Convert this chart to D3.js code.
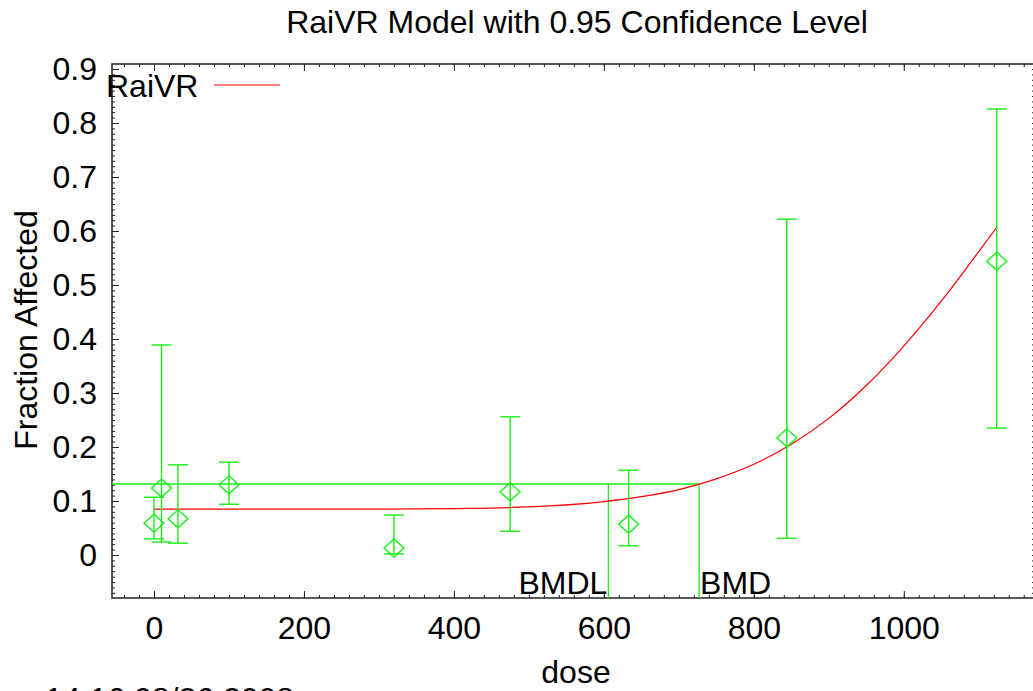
<!DOCTYPE html>
<html>
<head>
<meta charset="utf-8">
<script src="https://cdn.jsdelivr.net/npm/d3@7"></script>
<style>
  body { margin: 0; background: #fff; }
  svg { display: block; font-family: "Liberation Sans", Arial, sans-serif; }
</style>
</head>
<body>
<svg id="chart" width="1033" height="691"></svg>
<script>
// observed data: dose, fraction affected, 95% lower / upper bound
const doses = [0, 10, 32, 100, 320, 475, 633, 844, 1124];
const fractions = [0.059, 0.124, 0.067, 0.130, 0.013, 0.117, 0.057, 0.217, 0.544];
const lowerBounds = [0.030, 0.024, 0.022, 0.094, 0.002, 0.044, 0.017, 0.031, 0.235];
const upperBounds = [0.107, 0.389, 0.167, 0.172, 0.074, 0.256, 0.157, 0.622, 0.826];

// fitted RaiVR curve
const curveDoses = [0, 100, 200, 300, 400, 500, 600, 650, 700, 750, 800, 850, 900, 950, 1000, 1050, 1100, 1124];
const curveValues = [0.085, 0.085, 0.085, 0.085, 0.086, 0.089, 0.099, 0.108, 0.121, 0.141, 0.168, 0.205, 0.253, 0.314, 0.387, 0.470, 0.562, 0.607];

// benchmark dose lines
const bmdl = 606;
const bmd = 727;
const bmr = 0.1315;

const xTicks = [0, 200, 400, 600, 800, 1000];
const yTicks = [0, 0.1, 0.2, 0.3, 0.4, 0.5, 0.6, 0.7, 0.8, 0.9];

const svg = d3.select('#chart');
const plotLeft = 112, plotRight = 1035, plotTop = 64, plotBottom = 598;

const x = d3.scaleLinear().domain([-56, 1175]).range([plotLeft, plotRight]);
const y = d3.scaleLinear().domain([-0.0796, 0.9093]).range([plotBottom, plotTop]);

const green = '#19ee19';

// title
svg.append('text')
  .attr('x', 577).attr('y', 33)
  .attr('text-anchor', 'middle')
  .attr('font-size', 32)
  .text('RaiVR Model with 0.95 Confidence Level');

// frame
svg.append('rect')
  .attr('x', plotLeft).attr('y', plotTop)
  .attr('width', plotRight - plotLeft).attr('height', plotBottom - plotTop)
  .attr('fill', 'none').attr('stroke', '#222').attr('stroke-width', 1.5);

const minorX = d3.range(-40, 1175, 20);
const minorY = d3.range(-7, 91).map(d => d / 100);

function styleAxis(g) {
  g.select('.domain').remove();
  g.selectAll('line').attr('stroke', '#222');
  g.selectAll('text').attr('font-size', 32).attr('fill', '#000')
    .attr('font-family', '"Liberation Sans", Arial, sans-serif');
}

// bottom / top
svg.append('g').attr('transform', `translate(0,${plotBottom})`)
  .call(d3.axisBottom(x).tickValues(minorX).tickSize(-3).tickFormat(''))
  .call(styleAxis);
svg.append('g').attr('transform', `translate(0,${plotBottom})`)
  .call(d3.axisBottom(x).tickValues(xTicks).tickSize(-7).tickPadding(18).tickFormat(d3.format('d')))
  .call(styleAxis);
svg.append('g').attr('transform', `translate(0,${plotTop})`)
  .call(d3.axisTop(x).tickValues(minorX).tickSize(-3).tickFormat(''))
  .call(styleAxis);
svg.append('g').attr('transform', `translate(0,${plotTop})`)
  .call(d3.axisTop(x).tickValues(xTicks).tickSize(-7).tickFormat(''))
  .call(styleAxis);

// left / right
svg.append('g').attr('transform', `translate(${plotLeft},0)`)
  .call(d3.axisLeft(y).tickValues(minorY).tickSize(-3).tickFormat(''))
  .call(styleAxis);
svg.append('g').attr('transform', `translate(${plotLeft},0)`)
  .call(d3.axisLeft(y).tickValues(yTicks).tickSize(-7).tickPadding(15).tickFormat(d => d === 0 ? '0' : d3.format('.1f')(d)))
  .call(styleAxis);
svg.append('g').attr('transform', `translate(${plotRight},0)`)
  .call(d3.axisRight(y).tickValues(minorY).tickSize(-3).tickFormat(''))
  .call(styleAxis);

// axis titles
svg.append('text')
  .attr('x', 576).attr('y', 683)
  .attr('text-anchor', 'middle').attr('font-size', 32)
  .text('dose');
svg.append('text')
  .attr('transform', 'translate(37,330) rotate(-90)')
  .attr('text-anchor', 'middle').attr('font-size', 32)
  .text('Fraction Affected');

// timestamp, mostly cut off at the bottom as in the original
svg.append('text')
  .attr('x', 45).attr('y', 710)
  .attr('font-size', 32)
  .text('14:16 08/26 2008');

// BMR / BMDL / BMD lines
svg.append('line')
  .attr('x1', plotLeft).attr('x2', x(bmd))
  .attr('y1', y(bmr)).attr('y2', y(bmr))
  .attr('stroke', green).attr('stroke-width', 1.3);
[bmdl, bmd].forEach(v => {
  svg.append('line')
    .attr('x1', x(v)).attr('x2', x(v))
    .attr('y1', y(bmr)).attr('y2', plotBottom)
    .attr('stroke', green).attr('stroke-width', 1.3);
});
svg.append('text')
  .attr('x', x(bmdl) - 1).attr('y', 594)
  .attr('text-anchor', 'end').attr('font-size', 32)
  .text('BMDL');
svg.append('text')
  .attr('x', x(bmd) + 1).attr('y', 594)
  .attr('font-size', 32)
  .text('BMD');

// model curve
const line = d3.line()
  .x(d => x(d[0]))
  .y(d => y(d[1]))
  .curve(d3.curveMonotoneX);
svg.append('path')
  .datum(curveDoses.map((d, i) => [d, curveValues[i]]))
  .attr('d', line)
  .attr('fill', 'none').attr('stroke', '#ff0000').attr('stroke-width', 1.2);

// error bars and diamonds
const pts = doses.map((d, i) => ({dose: d, v: fractions[i], lo: lowerBounds[i], hi: upperBounds[i]}));
const g = svg.append('g').attr('stroke', green).attr('stroke-width', 1.4).attr('fill', 'none');
pts.forEach(p => {
  const cx = x(p.dose);
  g.append('line').attr('x1', cx).attr('x2', cx).attr('y1', y(p.lo)).attr('y2', y(p.hi));
  g.append('line').attr('x1', cx - 10).attr('x2', cx + 10).attr('y1', y(p.lo)).attr('y2', y(p.lo));
  g.append('line').attr('x1', cx - 10).attr('x2', cx + 10).attr('y1', y(p.hi)).attr('y2', y(p.hi));
  const cy = y(p.v);
  g.append('path')
    .attr('d', `M${cx - 10},${cy}L${cx},${cy - 9}L${cx + 10},${cy}L${cx},${cy + 9}Z`);
});

// legend
svg.append('text')
  .attr('x', 106).attr('y', 97)
  .attr('font-size', 32)
  .text('RaiVR');
svg.append('line')
  .attr('x1', 214).attr('x2', 280).attr('y1', 85).attr('y2', 85)
  .attr('stroke', '#ff0000').attr('stroke-width', 1.2);
</script>
</body>
</html>
